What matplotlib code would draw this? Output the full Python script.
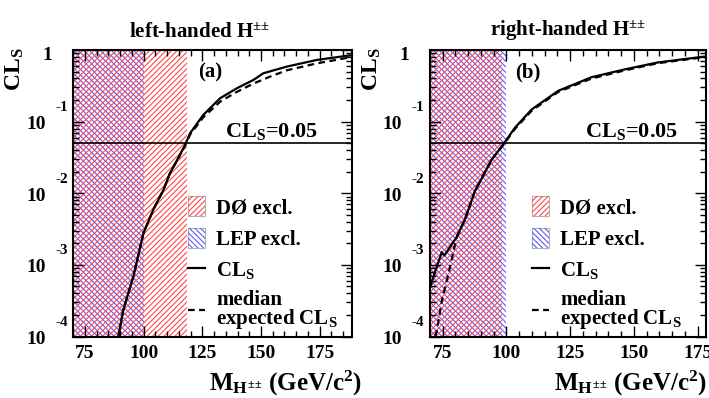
import matplotlib
matplotlib.use('Agg')
import matplotlib.pyplot as plt
from matplotlib.patches import Patch
from matplotlib.lines import Line2D
from matplotlib.legend_handler import HandlerTuple
from matplotlib.ticker import MultipleLocator, LogLocator, NullFormatter

plt.rcParams['font.family'] = 'Liberation Serif'
plt.rcParams['font.weight'] = 'bold'
plt.rcParams['mathtext.fontset'] = 'custom'
plt.rcParams['mathtext.rm'] = 'Liberation Serif:bold'
plt.rcParams['mathtext.bf'] = 'Liberation Serif:bold'
plt.rcParams['mathtext.it'] = 'Liberation Serif:bold'
plt.rcParams['hatch.linewidth'] = 0.8

# left-handed H++ (panel a)
left_mass = [89.2, 91.3, 95.6, 99.9, 104.1, 108.4, 111.2, 115.5, 117.6, 119.8,
             125.4, 132.6, 139.7, 146.8, 151.0, 161.0, 173.8, 187.1, 188.7]
left_cls = [1.0e-4, 2.34e-4, 6.9e-4, 2.77e-3, 5.9e-3, 1.11e-2, 1.9e-2, 3.47e-2, 0.047, 0.069,
            0.124, 0.212, 0.292, 0.382, 0.473, 0.586, 0.726, 0.834, 0.84]
left_exp_mass = [89.2, 91.3, 95.6, 99.9, 104.1, 108.4, 111.2, 115.5, 117.6, 119.8,
                 125.4, 132.6, 139.7, 146.8, 153.9, 161.0, 173.8, 187.1, 188.7]
left_exp = [1.0e-4, 2.34e-4, 6.9e-4, 2.77e-3, 5.9e-3, 1.11e-2, 1.9e-2, 3.4e-2, 0.046, 0.066,
            0.115, 0.19, 0.26, 0.34, 0.425, 0.52, 0.65, 0.78, 0.79]

# right-handed H++ (panel b)
right_mass = [70.0, 72.0, 73.9, 74.6, 75.6, 80.5, 83.7, 87.6, 94.2, 98.7,
              103.3, 109.9, 120.3, 133.4, 146.5, 159.5, 177.2, 178.3]
right_cls = [4.8e-4, 8.1e-4, 1.26e-3, 1.5e-3, 1.35e-3, 2.45e-3, 4.3e-3, 1.07e-2, 2.95e-2, 0.048,
             0.082, 0.148, 0.269, 0.417, 0.537, 0.671, 0.805, 0.81]
right_exp_mass = [72.0, 72.6, 74.6, 77.2, 80.5, 83.7, 87.6, 94.2, 98.7,
                  103.3, 109.9, 120.3, 133.4, 146.5, 159.5, 177.2, 178.3]
right_exp = [1.0e-4, 1.17e-4, 3.1e-4, 7.4e-4, 2.45e-3, 4.3e-3, 1.07e-2, 2.95e-2, 0.047,
             0.079, 0.142, 0.26, 0.40, 0.52, 0.655, 0.79, 0.795]

d0_limit = [118.4, 98.2]
lep_limit = [100.0, 100.0]
xmax = [188.7, 178.3]
titles = ['left-handed H$^{{\\pm}{\\pm}}$', 'right-handed H$^{{\\pm}{\\pm}}$']
panel_tags = ['(a)', '(b)']
title_x = [0.453, 0.5]
tag_x = [0.49, 0.355]
cl_text_x = [0.545, 0.56]
legend_x = [0.412, 0.37]
xlabel_x = [0.487, 0.45]

red = '#ff4848'
blue = '#5a5aff'
hatch_red = '//////'
hatch_blue = '\\\\\\\\\\\\'

fig = plt.figure(figsize=(7.09, 3.98), dpi=100)
axes = [fig.add_axes([0.1034, 0.1545, 0.3927, 0.7199]),
        fig.add_axes([0.6065, 0.1545, 0.3893, 0.7199])]

curves = [(left_mass, left_cls, left_exp_mass, left_exp),
          (right_mass, right_cls, right_exp_mass, right_exp)]

for i, ax in enumerate(axes):
    m, cls, me, ce = curves[i]
    ax.set_yscale('log')
    ax.set_xlim(70, xmax[i])
    ax.set_ylim(1e-4, 1)

    ax.axvspan(70, lep_limit[i], facecolor='none', edgecolor=blue, hatch=hatch_blue, linewidth=0, zorder=1)
    ax.axvspan(70, d0_limit[i], facecolor='none', edgecolor=red, hatch=hatch_red, linewidth=0, zorder=1)

    ax.axhline(0.05, color='black', linewidth=1.2, zorder=3)
    ax.plot(m, cls, color='black', linewidth=1.6, zorder=4)
    ax.plot(me, ce, color='black', linewidth=1.6, linestyle=(0, (3, 2)), zorder=4)

    ax.xaxis.set_major_locator(MultipleLocator(25))
    ax.xaxis.set_minor_locator(MultipleLocator(5))
    ax.yaxis.set_major_locator(LogLocator(base=10, numticks=10))
    ax.yaxis.set_minor_locator(LogLocator(base=10, subs=range(2, 10), numticks=20))
    ax.yaxis.set_major_formatter(NullFormatter())
    ax.yaxis.set_minor_formatter(NullFormatter())
    ax.tick_params(which='both', direction='in', top=True, right=True, width=1.0)
    ax.tick_params(which='major', length=8, labelsize=14, pad=6)
    ax.tick_params(which='minor', length=4)
    for s in ax.spines.values():
        s.set_linewidth(1.5)

    # ROOT style y labels: "10" with raised exponent
    for e in [-4, -3, -2, -1]:
        ax.annotate('10', xy=(0, 10.0 ** e), xycoords=('axes fraction', 'data'),
                    xytext=(-20, -2), textcoords='offset points', ha='right', va='center', fontsize=14)
        ax.annotate(str(e), xy=(0, 10.0 ** e), xycoords=('axes fraction', 'data'),
                    xytext=(-4, 10), textcoords='offset points', ha='right', va='center', fontsize=11)
    ax.annotate('1', xy=(0, 1), xycoords=('axes fraction', 'data'),
                xytext=(-15, -4), textcoords='offset points', ha='right', va='center', fontsize=14)

    ax.text(-0.21, 1.01, 'CL$_{S}$', transform=ax.transAxes, rotation=90,
            ha='center', va='top', fontsize=17)
    ax.text(xlabel_x[i], -0.19, 'M$_{H^{{\\pm}{\\pm}}}$ (GeV/c$^{2}$)', transform=ax.transAxes,
            ha='left', va='baseline', fontsize=18)
    ax.text(title_x[i], 1.025, titles[i], transform=ax.transAxes, ha='center', va='bottom', fontsize=15)
    ax.text(tag_x[i], 0.92, panel_tags[i], transform=ax.transAxes, ha='center', va='center', fontsize=15)
    ax.text(cl_text_x[i], 0.715, 'CL$_{S}$=0.05', transform=ax.transAxes, ha='left', va='center', fontsize=16)

    handles = [(Patch(facecolor='none', edgecolor='#b0b0b0', linewidth=0.8),
                Patch(facecolor='none', edgecolor=red, hatch=hatch_red, linewidth=0)),
               (Patch(facecolor='none', edgecolor='#b0b0b0', linewidth=0.8),
                Patch(facecolor='none', edgecolor=blue, hatch=hatch_blue, linewidth=0)),
               Line2D([], [], color='black', linewidth=1.6),
               Line2D([], [], color='black', linewidth=1.6, linestyle=(0, (3, 2)))]
    labels = ['DØ excl.', 'LEP excl.', 'CL$_{S}$', 'median\nexpected CL$_{S}$']
    leg = ax.legend(handles, labels, loc='upper left', bbox_to_anchor=(legend_x[i], 0.49),
                    frameon=False, fontsize=15, handlelength=0.8, handleheight=1.1,
                    handletextpad=0.55, labelspacing=0.45, borderaxespad=0, borderpad=0,
                    handler_map={tuple: HandlerTuple(ndivide=1, pad=0)})
    leg.get_texts()[3].set_linespacing(0.8)

fig.savefig('out.png', dpi=100)
